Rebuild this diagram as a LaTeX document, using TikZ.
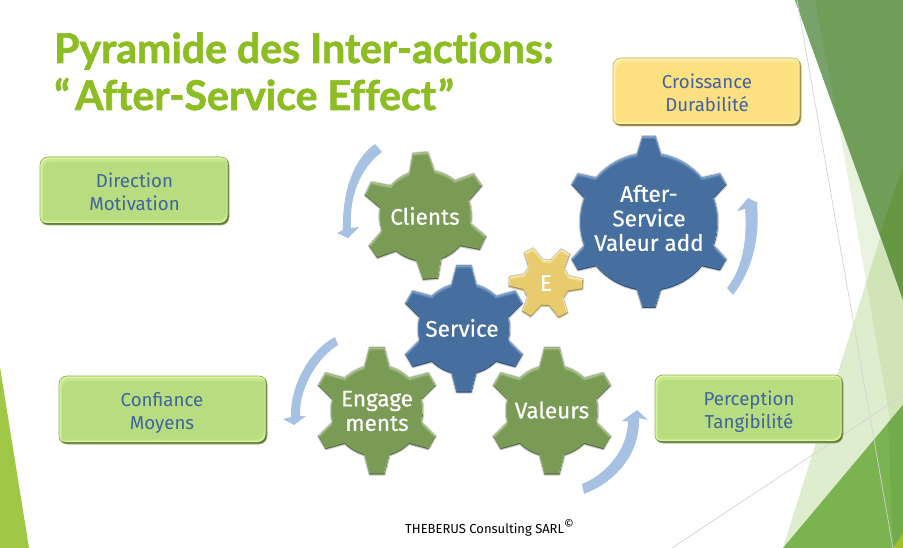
\documentclass[tikz,border=0pt]{standalone}
\usepackage{fontspec}
\setmainfont{Fira Sans}
\newfontfamily\titlefont[BoldFeatures={FakeBold=1.6},Ligatures=NoCommon]{Lato}
\newfontfamily\gearfont[FakeBold=0.5]{Fira Sans}
\definecolor{gmain}{HTML}{7A9B55}\definecolor{gmid}{HTML}{8CAB69}\definecolor{glight}{HTML}{AAC589}\definecolor{gdark}{HTML}{54703A}
\definecolor{bmain}{HTML}{466F9F}\definecolor{bmid}{HTML}{5883B5}\definecolor{blight}{HTML}{7EA4D0}\definecolor{bdark}{HTML}{2E4E78}
\definecolor{ymain}{HTML}{E8CB6C}\definecolor{ymid}{HTML}{F0DA87}\definecolor{ylight}{HTML}{FAEDAA}\definecolor{ydark}{HTML}{AD9644}
\definecolor{lgmain}{HTML}{B7DD80}\definecolor{lgmid}{HTML}{C6E78C}\definecolor{lglight}{HTML}{DDF5A0}\definecolor{lgdark}{HTML}{64783F}
\definecolor{lymain}{HTML}{FDE080}\definecolor{lymid}{HTML}{FEE894}\definecolor{lylight}{HTML}{FFF3B4}\definecolor{lydark}{HTML}{8F7C3C}
\definecolor{arrowblue}{HTML}{A6C1E2}\definecolor{boxtext}{HTML}{41639E}\definecolor{titlegreen}{HTML}{8CBD22}
\definecolor{gearedge}{HTML}{CDCDCD}
\definecolor{bgleft}{HTML}{A0C846}\definecolor{bgtop}{HTML}{6F9E58}\definecolor{bgstrip}{HTML}{77A36A}
\definecolor{bgtopdark}{HTML}{669843}\definecolor{bgpale}{HTML}{8CC050}\definecolor{bgbottom}{HTML}{7AB350}
\definecolor{bgbottomdark}{HTML}{72AB4B}\definecolor{bgcorner}{HTML}{A0C030}
\newcommand\gp[1][]{%
  \path[#1] ({\goff-\ga}:\gR)
  \foreach \k in {0,...,5}{
    -- ({\goff+60*\k-\gb}:\gr) -- ({\goff+60*\k+\gb}:\gr) -- ({\goff+60*\k+\ga}:\gR)
    \foreach \j in {1,...,7}{ -- ({\goff+60*\k+\ga+(60-2*\ga)*\j/8}:\gR) }
    -- ({\goff+60*\k+60-\ga}:\gR)
  } -- cycle;}
% centre x, centre y, body radius, tip radius, tip width, base width, offset angle, colour prefix
\newcommand\drawgear[8]{%
  \begin{scope}[shift={(#1,#2)}]
    \pgfmathsetmacro\ga{asin(#6/2/#3)}\pgfmathsetmacro\gb{atan(#5/2/#4)}
    \def\gR{#3}\def\gr{#4}\def\goff{#7}
    \gp[draw=gearedge,line width=2.2pt,line join=round]
    \gp[fill=#8dark]
    \begin{scope}\gp[clip,shift={(0,-1.5)}]\gp[fill=#8light]\end{scope}
    \begin{scope}\gp[clip,shift={(0,-1.5)}]\gp[clip,shift={(0,1.5)}]\gp[clip,shift={(-1,0)}]\gp[fill=#8mid]\end{scope}
    \begin{scope}\gp[clip,shift={(0,-1.5)}]\gp[clip,shift={(0,3)}]\gp[clip,shift={(1,0)}]\gp[clip,shift={(-1,0)}]\fill[#8main] (-100,-100) rectangle (100,100);\end{scope}
  \end{scope}}
\newcommand\bp[5][]{\path[#1,rounded corners=8pt] (#2,#3) rectangle (#4,#5);}
\newcommand\drawbox[5]{%
  \bp[fill=#5dark]{#1}{#2}{#3}{#4}
  \begin{scope}\bp[clip,shift={(-1.5,-2)}]{#1}{#2}{#3}{#4}\bp[fill=#5light]{#1}{#2}{#3}{#4}\end{scope}
  \begin{scope}\bp[clip,shift={(-2,-3)}]{#1}{#2}{#3}{#4}\bp[clip,shift={(1.5,2)}]{#1}{#2}{#3}{#4}\bp[fill=#5mid]{#1}{#2}{#3}{#4}\end{scope}
  \begin{scope}\bp[clip,shift={(-3,-4.5)}]{#1}{#2}{#3}{#4}\bp[clip,shift={(3,5)}]{#1}{#2}{#3}{#4}\fill[#5main] (#1,#2) rectangle (#3,#4);\end{scope}
  \draw[#5dark!45!#5main,line width=.6pt,rounded corners=8pt] (#1,#2) rectangle (#3,#4);}
\tikzset{
  geartext/.style={text=white,font=\gearfont\fontsize{22.5}{24.5}\selectfont,align=center,inner sep=0pt},
  boxlabel/.style={text=boxtext,font=\fontsize{18.7}{23}\selectfont,align=center,inner sep=0pt},
  titletext/.style={text=titlegreen,font=\titlefont\bfseries\fontsize{41}{43}\selectfont,anchor=base west,inner sep=0pt},
  thinline/.style={draw=black!17,line width=.7pt},
  turn/.style={fill=arrowblue}
}
\begin{document}
\begin{tikzpicture}[x=1pt,y=-1pt]
\useasboundingbox (0,0) rectangle (903,548);
\fill[white] (0,0) rectangle (903,548);
% background
\fill[bgleft] (0,367) -- (29,548) -- (0,548) -- cycle;
\fill[bgpale,opacity=.27] (880,238) -- (783,548) -- (903,548) -- (903,300) -- cycle;
\fill[bgpale,opacity=.18] (838,120) -- (903,494) -- (903,300) -- cycle;
\fill[bgtop] (795,0) -- (903,0) -- (903,300) -- cycle;
\fill[bgstrip] (795,0) -- (815,0) -- (838,120) -- cycle;
\fill[bgtopdark] (880,233) -- (903,167) -- (903,300) -- cycle;
\fill[bgbottom] (783,548) -- (903,405) -- (903,548) -- cycle;
\fill[bgbottomdark] (888,423) -- (903,405) -- (903,548) -- (893,548) -- cycle;
\fill[bgcorner] (893,548) -- (903,533) -- (903,548) -- cycle;
\coordinate (la) at (797,0); \coordinate (lb) at (893,548);
\coordinate (lc) at (672,548); \coordinate (ld) at (903,395);
\draw[thinline] (la) -- (lb);
\draw[thinline] (lc) -- (ld);
% title
\node[titletext] (t1) at (54,63) {Pyramide des Inter-actions:};
\node[titletext] (t2) at (54,110) {“\hspace{5pt}After-Service Effect\hspace{2pt}”};
% boxes
\drawbox{40}{157}{229}{225}{lg}
\drawbox{613}{58}{801}{126}{ly}
\drawbox{59}{376}{267}{444}{lg}
\drawbox{655}{375}{843}{443}{lg}
\node[boxlabel] (direction) at (134.5,192) {Direction\\Motivation};
\node[boxlabel] (croissance) at (707,92.5) {Croissance\\Durabilité};
\node[boxlabel] (confiance) at (162,413) {Confiance\\Moyens};
\node[boxlabel] (perception) at (749,412) {Perception\\Tangibilité};
% curved arrows
\fill[turn] (375,144) .. controls (352,160) and (342,195) .. (343,230) -- (337,233) -- (348,238) -- (359,227) -- (351,228) .. controls (349,197) and (360,168) .. (382,152) -- cycle;
\fill[turn] (733,295) .. controls (752,270) and (760,240) .. (757,204) -- (758,203) -- (748,198) -- (737,211) -- (745,209) .. controls (748,245) and (740,272) .. (727,288) -- cycle;
\fill[turn] (335,337) .. controls (310,350) and (290,385) .. (291,417) -- (283,419) -- (294,425) -- (306,416) -- (300,416) .. controls (299,385) and (320,356) .. (338,345) -- cycle;
\fill[turn] (584,494) .. controls (615,482) and (640,455) .. (639,418) -- (648,420) -- (637,410) -- (622,421) -- (628,421) .. controls (628,450) and (605,475) .. (582,484) -- cycle;
% gears
\drawgear{425.5}{216}{46}{64}{15}{25}{25.4}{g}
\drawgear{649}{222}{69}{86}{13}{24}{30}{b}
\drawgear{546}{283}{23}{37}{10}{16}{2}{y}
\drawgear{464}{329}{46}{64}{15}{25}{30}{b}
\drawgear{377}{411}{46}{64}{15}{25}{30}{g}
\drawgear{552}{411}{46}{64}{15}{25}{30}{g}
\node[geartext] (clients) at (425,216) {Clients};
\node[geartext] (after) at (649,218) {After-\\Service\\Valeur add};
\node[geartext] (e) at (546,283) {E};
\node[geartext] (service) at (462,328) {Service};
\node[geartext] (engage) at (377,411) {Engage\\ments};
\node[geartext] (valeurs) at (552,410) {Valeurs};
\node[anchor=base west,inner sep=0pt,text=black,font=\fontsize{13}{16}\selectfont] (credit) at (405,533) {THEBERUS Consulting SARL\raisebox{5pt}{\fontsize{12}{12}\selectfont©}};
\end{tikzpicture}
\end{document}
